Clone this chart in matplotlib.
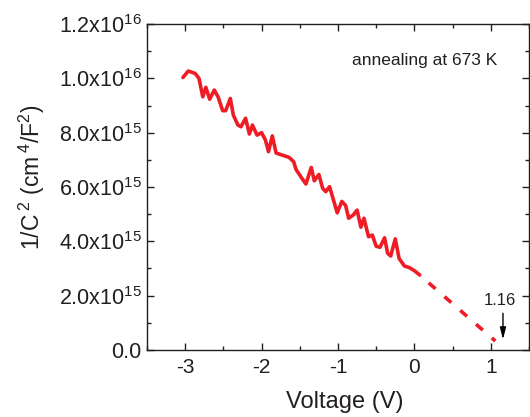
import matplotlib
matplotlib.use("Agg")
import matplotlib.pyplot as plt
from matplotlib.ticker import MultipleLocator

plt.rcParams['font.family'] = ['Liberation Sans', 'DejaVu Sans']
plt.rcParams['mathtext.fontset'] = 'custom'
plt.rcParams['mathtext.rm'] = 'Liberation Sans'
plt.rcParams['mathtext.it'] = 'Liberation Sans'
plt.rcParams['mathtext.default'] = 'regular'

# measured data (1/C^2 in units of 1e15 cm^4/F^2)
voltage = [-3.03, -2.96, -2.87, -2.82, -2.77, -2.73, -2.68, -2.62, -2.57, -2.51,
           -2.47, -2.41, -2.37, -2.31, -2.27, -2.21, -2.16, -2.12, -2.06, -2.00,
           -1.95, -1.91, -1.86, -1.81, -1.64, -1.58, -1.55, -1.47, -1.42, -1.35,
           -1.31, -1.25, -1.20, -1.16, -1.11, -1.01, -0.95, -0.90, -0.86, -0.80,
           -0.75, -0.70, -0.66, -0.60, -0.55, -0.50, -0.45, -0.39, -0.35, -0.31,
           -0.25, -0.20, -0.13, -0.07, 0.00, 0.07]
inv_c2 = [10.03, 10.27, 10.18, 10.00, 9.32, 9.67, 9.23, 9.57, 9.32, 8.81,
          8.81, 9.26, 8.65, 8.28, 8.22, 8.53, 7.95, 8.28, 7.91, 8.00,
          7.73, 7.30, 7.88, 7.25, 7.09, 6.93, 6.65, 6.31, 6.11, 6.72,
          6.23, 6.46, 5.95, 5.83, 6.01, 5.05, 5.47, 5.32, 4.85, 4.97,
          5.15, 4.52, 4.85, 4.17, 4.23, 3.82, 3.78, 4.13, 3.56, 3.46,
          4.09, 3.37, 3.09, 3.04, 2.92, 2.76]

# linear extrapolation
extrap_v = [0.07, 1.06]
extrap_c = [2.76, 0.33]

# annotation values
v_bi = 1.16
arrow_y = [1.35, 0.39]
scale = 1e15

yticks = [0, 2e15, 4e15, 6e15, 8e15, 1.0e16, 1.2e16]
ytick_labels = ['0.0', '2.0x10$^{15}$', '4.0x10$^{15}$', '6.0x10$^{15}$',
                '8.0x10$^{15}$', '1.0x10$^{16}$', '1.2x10$^{16}$']
xticks = [-3, -2, -1, 0, 1]
xtick_labels = ['-3', '-2', '-1', '0', '1']

red = '#ee1c25'
txt = '#231f20'

fig = plt.figure(figsize=(5.30, 4.17), dpi=100)
ax = fig.add_axes([0.2774, 0.1607, 0.7206, 0.7817])

ax.plot(voltage, [v * scale for v in inv_c2], color=red, lw=2.6,
        solid_joinstyle='round', solid_capstyle='round')
ax.plot(extrap_v, [v * scale for v in extrap_c], color=red, lw=2.6,
        linestyle=(2.5, (2.5, 3.3)), dash_capstyle='butt')

ax.annotate('', xy=(v_bi, arrow_y[1] * scale), xytext=(v_bi, arrow_y[0] * scale),
            arrowprops=dict(arrowstyle='-|>,head_length=0.7,head_width=0.18',
                            color='black', lw=1.0, shrinkA=0, shrinkB=0))
ax.text(1.115, 1.84e15, '1.16', fontsize=12, color=txt, ha='center', va='center')
ax.text(0.14, 10.64e15, 'annealing at 673 K', fontsize=12.5, color=txt,
        ha='center', va='center')

ax.set_xlim(-3.5, 1.5)
ax.set_ylim(0, 1.2e16)
ax.set_xticks(xticks)
ax.set_xticklabels(xtick_labels)
ax.set_yticks(yticks)
ax.set_yticklabels(ytick_labels)
ax.xaxis.set_minor_locator(MultipleLocator(0.5))
ax.yaxis.set_minor_locator(MultipleLocator(1e15))

ax.tick_params(which='both', direction='in', top=True, right=True,
               colors=txt, width=1.0)
ax.tick_params(which='major', length=5)
ax.tick_params(which='minor', length=3)
ax.tick_params(axis='y', which='major', labelsize=15.5, pad=4)
ax.tick_params(axis='x', which='major', labelsize=15, pad=6)
for s in ax.spines.values():
    s.set_linewidth(1.0)
    s.set_color(txt)

ax.set_xlabel('Voltage (V)', fontsize=17, color=txt)
ax.set_ylabel('1/C$^{\\;2}$ (cm$^{\\;4}$/F$^2$)', fontsize=16.5, color=txt)
ax.xaxis.set_label_coords(0.518, -0.125)
ax.yaxis.set_label_coords(-0.262, 0.531)

fig.savefig('out.png', dpi=100)
